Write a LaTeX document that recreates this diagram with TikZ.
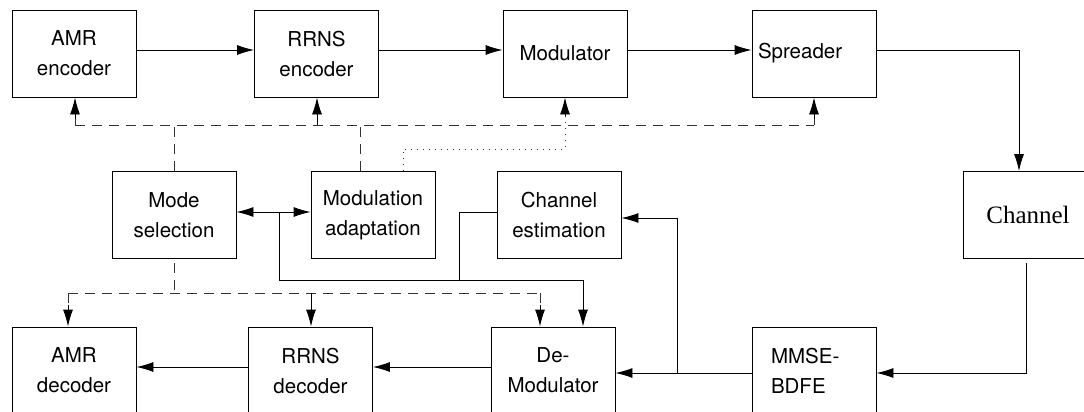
\documentclass[tikz,border=0pt]{standalone}
\usepackage{fontspec}
\setsansfont{TeX Gyre Heros}
\newfontfamily\chanfont{Liberation Serif}
\usetikzlibrary{arrows.meta}
\begin{document}
\begin{tikzpicture}[x=1pt,y=-1pt,
  box/.style={draw, line width=0.9pt, minimum width=124pt, minimum height=87pt, inner sep=0pt,
    font=\sffamily\fontsize{20.5}{30}\selectfont, align=center},
  lbox/.style={box, align=left},
  conn/.style={line width=0.9pt},
  tip/.style={-{Latex[length=17pt,width=10pt]}},
  arr/.style={conn, tip},
  darr/.style={conn, {Latex[length=17pt,width=10pt]}-{Latex[length=17pt,width=10pt]}},
  dsh/.style={conn, dash pattern=on 10pt off 7pt, draw=black!80},
  dot/.style={conn, dash pattern=on 1pt off 5pt, draw=black!80}]
\useasboundingbox (0,0) rectangle (1084,412);
\clip (0,0) rectangle (1084,412);
% top row
\node[box] (amrenc) at (74,53.5) {AMR\\encoder};
\node[box] (rrnsenc) at (316.5,53.5) {RRNS\\encoder};
\node[box] (mod) at (565,53.5) {Modulator};
\node[lbox, text width=112pt, inner xsep=6pt] (spread) at (814,53.5) {Spreader};
% middle row
\node[box] (modesel) at (174,215) {Mode\\selection};
\node[box] (modadapt) at (373,215) {Modulation\\adaptation};
\node[box] (chest) at (559,215) {Channel\\estimation};
\node[box, minimum width=130pt, font=\chanfont\fontsize{25}{30}\selectfont] (channel) at (1028,215) {Channel};
% bottom row
\node[box] (amrdec) at (74,370.5) {AMR\\decoder};
\node[box] (rrnsdec) at (310.5,370.5) {RRNS\\decoder};
\node[box] (demod) at (553,370.5) {De-\\Modulator};
\node[lbox, text width=86pt, inner xsep=19pt] (mmse) at (814,370.5) {MMSE-\\BDFE};
% helper coordinates
\coordinate (y50) at (0,50);
\coordinate (y125) at (0,125);
\coordinate (y149) at (0,149);
\coordinate (y212) at (0,212);
\coordinate (y218) at (0,218);
\coordinate (y280) at (0,280);
\coordinate (y293) at (0,293);
\coordinate (y367) at (0,367);
\coordinate (y373) at (0,373);
\coordinate (xch) at (1019,0);
\coordinate (xchb) at (1026,0);
\coordinate (xa) at (75,0);
\coordinate (xb) at (317,0);
\coordinate (xc) at (360,0);
\coordinate (xd) at (403,0);
\coordinate (xe) at (565,0);
\coordinate (xf) at (279,0);
\coordinate (xg) at (459,0);
\coordinate (xh) at (583,0);
\coordinate (xi) at (677,0);
\coordinate (xj) at (68,0);
\coordinate (xk) at (311,0);
\coordinate (xl) at (540,0);
% top row connectors
\draw[arr] (amrenc.east |- y50) -- (rrnsenc.west |- y50);
\draw[arr] (rrnsenc.east |- y50) -- (mod.west |- y50);
\draw[arr] (mod.east |- y50) -- (spread.west |- y50);
\draw[arr] (spread.east |- y50) -| (channel.north -| xch);
% channel to MMSE
\draw[arr] ([yshift=-4pt]channel.south -| xchb) |- (mmse.east |- y373);
\draw[arr] (mmse.west |- y373) -- (demod.east |- y373);
\draw[arr] (xi |- y373) |- (chest.east |- y218);
% bottom row
\draw[arr] (demod.west |- y367) -- (rrnsdec.east |- y367);
\draw[arr] (rrnsdec.west |- y367) -- (amrdec.east |- y367);
% mode selection <-> modulation adaptation
\draw[darr] (modesel.east |- y212) -- (modadapt.west |- y212);
\draw[arr] (xf |- y212) |- (xh |- y280) -- (demod.north -| xh);
\draw[conn] (chest.west |- y212) -| (xg |- y280);
% dashed control lines (top)
\draw[dsh] (modesel.north) -- (modesel.north |- y125);
\draw[dsh] (modadapt.north -| xc) -- (xc |- y125);
\draw[dsh] (xa |- y125) -- (spread.south |- y125);
\draw[dsh] (xa |- y125) -- ([yshift=-8pt]amrenc.south -| xa);
\draw[arr] ([yshift=-22pt]amrenc.south -| xa) -- (amrenc.south -| xa);
\draw[arr] (xb |- y125) -- (rrnsenc.south -| xb);
\draw[dsh] (spread.south |- y125) -- ([yshift=-8pt]spread.south);
\draw[arr] ([yshift=-22pt]spread.south) -- (spread.south);
% dotted line
\draw[dot] (modadapt.north -| xd) -- (xd |- y149) -- (xe |- y149) -- ([yshift=-6pt]mod.south -| xe);
\draw[arr] ([yshift=-19pt]mod.south -| xe) -- (mod.south -| xe);
% dashed control lines (bottom)
\draw[dsh] ([yshift=-4pt]modesel.south) -- (modesel.south |- y293);
\draw[dsh] (xj |- y293) -- (xl |- y293);
\draw[dsh] (xj |- y293) -- ([yshift=8pt]amrdec.north -| xj);
\draw[arr] ([yshift=22pt]amrdec.north -| xj) -- (amrdec.north -| xj);
\draw[arr] (xk |- y293) -- (rrnsdec.north -| xk);
\draw[dsh] (xl |- y293) -- ([yshift=8pt]demod.north -| xl);
\draw[arr] ([yshift=22pt]demod.north -| xl) -- (demod.north -| xl);
\end{tikzpicture}
\end{document}
